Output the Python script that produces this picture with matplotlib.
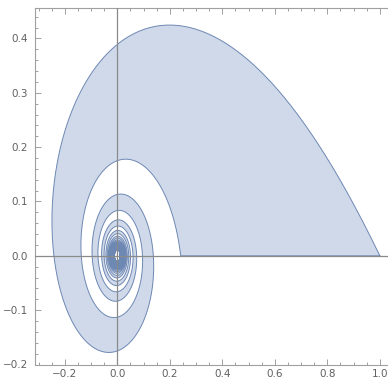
import matplotlib
matplotlib.use('Agg')
import matplotlib.pyplot as plt
from matplotlib.ticker import MultipleLocator
import numpy as np

# spiral strip: outer edge r = r_start / (1 + t), inner edge shifted by half a turn
r_start = 1.0            # outer edge starts at (1, 0)
strip_shift = np.pi      # inner edge starts at about (0.24, 0)
t_end = 30 * np.pi       # about 15 turns, the hole in the middle is r ~ 0.01

x_ticks = [-0.2, 0.0, 0.2, 0.4, 0.6, 0.8, 1.0]
y_ticks = [-0.2, -0.1, 0.0, 0.1, 0.2, 0.3, 0.4]

fill_color = '#cfd9e9'
edge_color = '#6e88b4'
frame_color = '#a0a0a0'
label_color = '#606060'


def spiral_edge(t, shift):
    r = r_start / (1 + t + shift)
    return r * np.cos(t), r * np.sin(t)


t = np.linspace(0, t_end, 20000)
xo, yo = spiral_edge(t, 0)
xi, yi = spiral_edge(t, strip_shift)
xs = np.concatenate([xo, xi[::-1]])
ys = np.concatenate([yo, yi[::-1]])

fig = plt.figure(figsize=(3.88, 3.83), dpi=100)
ax = fig.add_axes([35 / 388, (383 - 364.5) / 383, 1 - 35 / 388, (364.5 - 8) / 383])

ax.fill(xs, ys, facecolor=fill_color, edgecolor='none', zorder=1)
ax.plot(np.append(xs, xs[0]), np.append(ys, ys[0]), color=edge_color, lw=0.7, zorder=2)

ax.axhline(0, color='#8a8a8a', lw=0.9, zorder=3)
ax.axvline(0, color='#8a8a8a', lw=0.9, zorder=3)

ax.set_xlim(-0.3135, 1.031)
ax.set_ylim(-0.2, 0.456)

ax.set_xticks(x_ticks)
ax.set_yticks(y_ticks)
ax.set_xticklabels([f'{v:.1f}'.replace('-', '\u2212') for v in x_ticks])
ax.set_yticklabels([f'{v:.1f}'.replace('-', '\u2212') for v in y_ticks])
ax.xaxis.set_minor_locator(MultipleLocator(0.05))
ax.yaxis.set_minor_locator(MultipleLocator(0.02))

ax.tick_params(which='both', direction='in', top=True, right=False, color=frame_color, width=0.7)
ax.tick_params(which='major', length=4, labelsize=7.5, labelcolor=label_color, pad=3)
ax.tick_params(which='minor', length=2)
ax.tick_params(axis='y', which='major', pad=5)

for side in ['left', 'bottom', 'top']:
    ax.spines[side].set_color(frame_color)
    ax.spines[side].set_linewidth(0.8)
ax.spines['right'].set_visible(False)

fig.savefig('out.png', dpi=100)
